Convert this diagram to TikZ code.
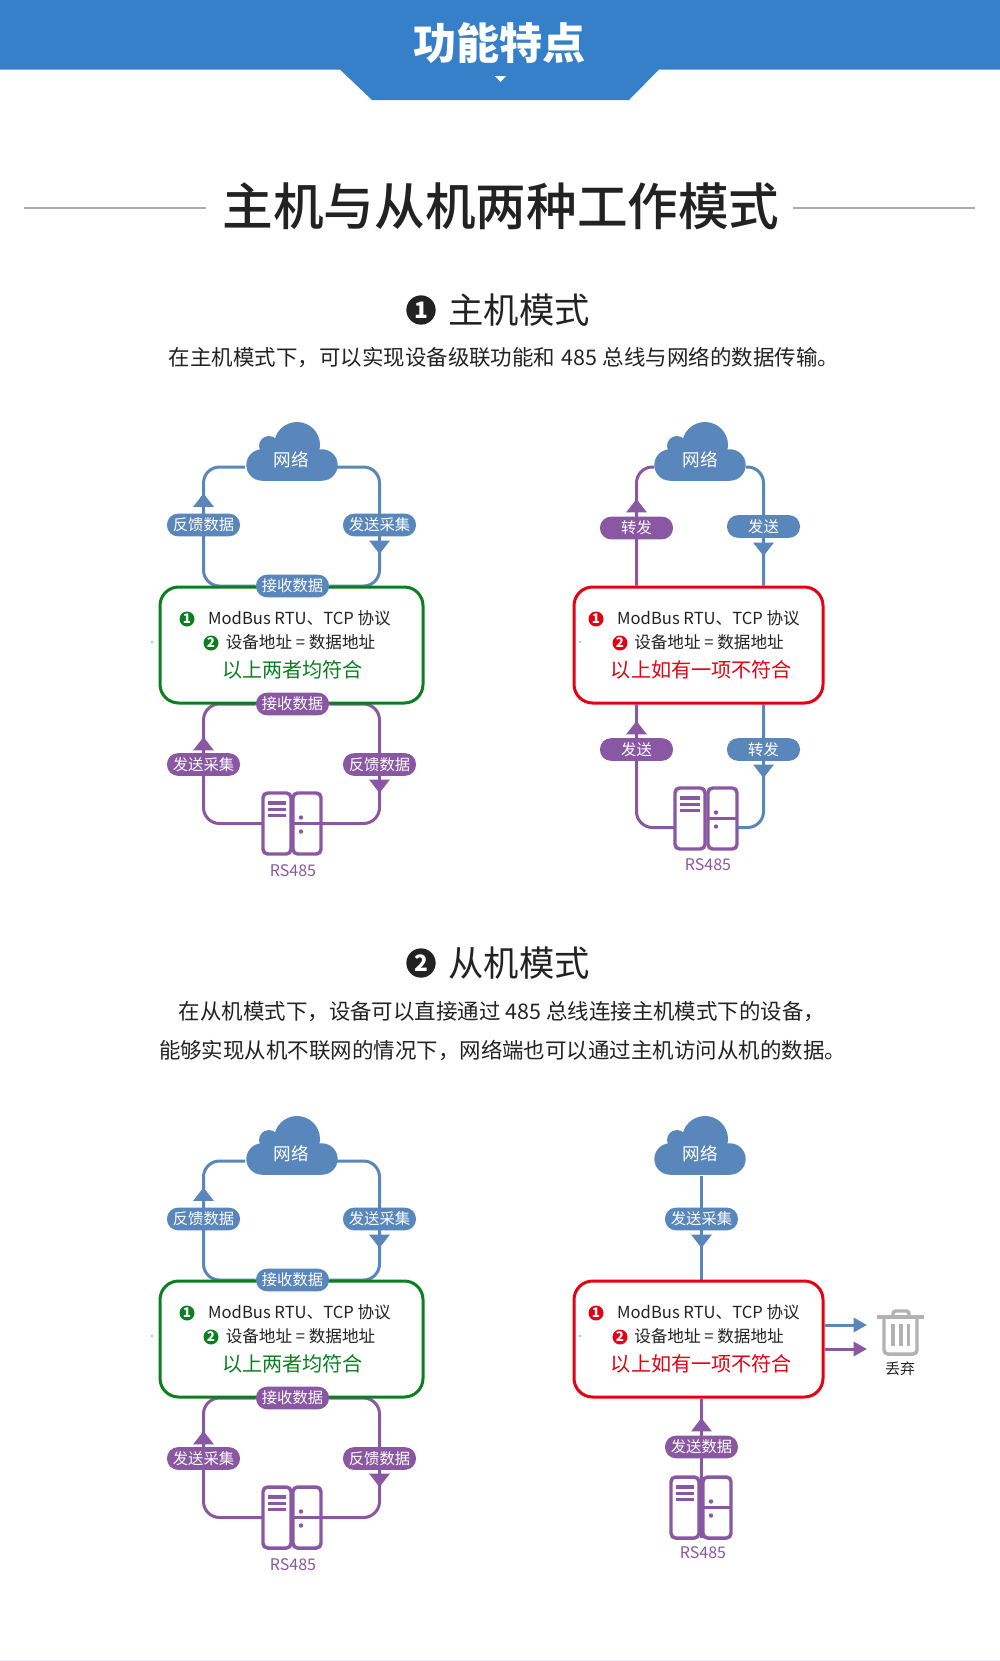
\documentclass[tikz,border=0pt]{standalone}
\usepackage{fontspec}
\setmainfont{Noto Sans CJK SC}
\newfontfamily\medf{Noto Sans CJK SC Medium}
\usetikzlibrary{arrows.meta,backgrounds}
\definecolor{hdr}{HTML}{3580C9}
\definecolor{bl}{HTML}{5A87BB}
\definecolor{pu}{HTML}{8A58A3}
\definecolor{rd}{HTML}{E60012}
\definecolor{gr}{HTML}{0A7F1F}
\definecolor{ink}{HTML}{222222}
\definecolor{rule}{HTML}{ABABAB}
\definecolor{tr}{HTML}{B2B2B2}
\definecolor{edge}{HTML}{E4ECF4}
\newcommand\fs[1]{\fontsize{#1}{#1}\selectfont}
\tikzset{
  wire/.style={line width=2.25pt,rounded corners=12pt},
  tipline/.style={-{Triangle[length=10pt,width=15pt]}},
  smalltip/.style={-{Triangle[length=10pt,width=10.5pt]}},
  pill/.style={fill=#1,text=white,rectangle,rounded corners=8.25pt,minimum width=54.75pt,minimum height=17pt,inner sep=0pt,font=\fs{11.5}},
  infobox/.style={draw=#1,fill=white,line width=2.25pt,rectangle,rounded corners=14pt,minimum height=87pt,inner sep=0pt},
  num/.style={circle,fill=#1,text=white,minimum size=11.25pt,inner sep=0pt,font=\bfseries\fs{10}},
  bignum/.style={circle,fill=ink,text=white,minimum size=22pt,inner sep=0pt,font=\bfseries\fs{17}},
  txt/.style={inner sep=0pt,text=ink},
  srvpart/.style={draw=pu,line width=2.6pt,rounded corners=3.5pt,fill=white},
}
\newcommand\mycloud[4]{% name, x, y, x offset of the text
  \fill[bl] (#2-30,#3+6) circle[radius=15.7];
  \fill[bl] (#2-23,#3-13) circle[radius=10];
  \fill[bl] (#2+5,#3-14) circle[radius=23];
  \fill[bl] (#2+30,#3+6) circle[radius=15.7];
  \fill[bl] (#2-30,#3-5) rectangle (#2+30,#3+21.7);
  \node[text=white,inner sep=0pt,minimum width=68.25pt,minimum height=33pt,font=\fs{13.2}] (#1) at (#2+#4,#3+1) {网络};
}
\newcommand\myserver[6]{% name, x1,x2 (left box), x3,x4 (right box), top
  \node[inner sep=0pt,minimum height=45.75pt,minimum width={(#5-#2)*0.75pt}] (#1) at ({(#2+#5)/2},#6+30.5) {};
  \draw[srvpart] (#2,#6) rectangle (#3,#6+61);
  \draw[srvpart] (#4,#6) rectangle (#5,#6+61);
  \fill[pu] (#2+5,#6+8) rectangle (#3-5,#6+11.5);
  \fill[pu] (#2+5,#6+14.5) rectangle (#3-5,#6+18);
  \fill[pu] (#2+5,#6+20.5) rectangle (#3-5,#6+24);
  \draw[pu,line width=2.25pt] (#4,#6+30.5) -- (#5,#6+30.5);
  \fill[pu] (#4+8,#6+24.5) circle[radius=2.2];
  \fill[pu] (#4+8,#6+38.5) circle[radius=2.2];
}
\newcommand\boxtext[7]{% suffix, x of num1, x of modbus centre, x of num2, x of addr centre, y-offset, colour
  \node[num=#7] (na#1) at (#2,619+#6) {1};
  \node[txt,font=\fs{12.45}] (ta#1) at (#3,618+#6) {ModBus RTU、TCP 协议};
  \node[num=#7] (nb#1) at (#4,643+#6) {2};
  \node[txt,font=\fs{12.45}] (tb#1) at (#5,642+#6) {设备地址 = 数据地址};
}
\begin{document}
\begin{tikzpicture}[x=0.75pt,y=-0.75pt]
\useasboundingbox (0,0) rectangle (1000,1661);
\begin{scope}[on background layer]
  \fill[white] (0,0) rectangle (1000,1661);
\end{scope}
\fill[edge] (0,1660) rectangle (1000,1661);
% header
\fill[hdr] (0,0) -- (1000,0) -- (1000,69.5) -- (659,69.5) -- (629,100) -- (372,100) -- (340,69.5) -- (0,69.5) -- cycle;
\fill[white] (495,76) -- (506,76) -- (500.5,82) -- cycle;
\node[text=white,inner sep=0pt,font=\bfseries\fs{32.3}] (hd) at (499.5,43) {功能特点};
% main title
\node[txt,font=\medf\fs{38}] (title) at (501,206) {主机与从机两种工作模式};
\coordinate (rl1) at (24,208); \coordinate (rr2) at (975,208);
\coordinate (rl2) at (206,208); \coordinate (rr1) at (793,208);
\draw[rule,line width=1.5pt] (rl1) -- (rl2);
\draw[rule,line width=1.5pt] (rr1) -- (rr2);
% section 1 heading
\node[bignum] (n1) at (421,310) {1};
\node[txt,font=\fs{26.5}] (s1) at (519,310) {主机模式};
\node[txt,font=\fs{16.1}] (d1) at (504,357) {在主机模式下，可以实现设备级联功能和\hspace{0.8pt} 485 \hspace{0.8pt}总线与网络的数据传输。};
% section 2 heading
\node[bignum] (n2) at (421,963) {2};
\node[txt,font=\fs{26.5}] (s2) at (519,963) {从机模式};
\node[txt,font=\fs{16.1}] (d2) at (502,1012) {在从机模式下，设备可以直接通过 485 总线连接主机模式下的设备，};
\node[txt,font=\fs{16.1}] (d3) at (502.5,1050) {能够实现从机不联网的情况下，网络端也可以通过主机访问从机的数据。};

% ---------- diagrams 1 and 3 (same figure, two heights)
\foreach \k/\o in {a/0,c/694}{
  \mycloud{cl\k}{292}{459+\o}{-1}
  \node[infobox=gr,minimum width=197.25pt] (bx\k) at (291.5,645+\o) {};
  \node[pill=bl] (up\k) at (203.5,525+\o) {反馈数据};
  \node[pill=bl] (dn\k) at (379.5,525+\o) {发送采集};
  \node[pill=bl] (rx\k) at (292.5,586+\o) {接收数据};
  \node[pill=pu] (ry\k) at (292.5,704+\o) {接收数据};
  \node[pill=pu] (vp\k) at (203.5,764.5+\o) {发送采集};
  \node[pill=pu] (wp\k) at (379.5,764.5+\o) {反馈数据};
  \boxtext{\k}{187}{299.5}{211}{300.5}{\o}{gr}
  \node[text=gr,inner sep=0pt,font=\fs{15.1}] (tc\k) at (292.5,670+\o) {以上两者均符合};
  \fill[cyan!50] (151,641+\o) rectangle (153,643+\o);
  \myserver{sv\k}{263}{291}{293}{321}{793+\o}
  \node[text=pu,inner sep=0pt,font=\fs{12}] (rs\k) at (293,871+\o) {RS485};
  \begin{scope}[on background layer]
    \draw[wire,draw=bl] ([yshift=-5.25pt]cl\k.east) -| (dn\k.center) |- (rx\k.east);
    \draw[wire,draw=bl] ([yshift=-5.25pt]cl\k.west) -| (up\k.center) |- (rx\k.west);
    \draw[wire,draw=bl,tipline] (up\k.center) -- ++(0,-31.5);
    \draw[wire,draw=bl,tipline] (dn\k.center) -- ++(0,29);
    \draw[wire,draw=pu] (ry\k.west) -| (vp\k.center) |- (sv\k.west);
    \draw[wire,draw=pu] (ry\k.east) -| (wp\k.center) |- (sv\k.east);
    \draw[wire,draw=pu,tipline] (vp\k.center) -- ++(0,-27.5);
    \draw[wire,draw=pu,tipline] (wp\k.center) -- ++(0,28.5);
  \end{scope}
}

% ---------- diagram 2
\mycloud{clb}{700}{459}{0}
\node[infobox=rd,minimum width=186.75pt] (bxb) at (698.5,645) {};
\node[pill=pu] (upb) at (636.5,528) {转发};
\node[pill=bl] (dnb) at (763.5,526.5) {发送};
\node[pill=pu] (vpb) at (636.5,749.5) {发送};
\node[pill=bl] (wpb) at (763.5,749.5) {转发};
\boxtext{b}{596}{708.5}{620}{709}{0}{rd}
\node[text=rd,inner sep=0pt,font=\fs{15.1}] (tcb) at (701.5,670) {以上如有一项不符合};
\fill[cyan!50] (579,641) rectangle (581,643);
\myserver{svb}{675}{705}{708}{737}{788}
\node[text=pu,inner sep=0pt,font=\fs{12}] (rsb) at (708,865) {RS485};
\begin{scope}[on background layer]
  \draw[wire,draw=pu] ([yshift=-5.25pt]clb.west) -| (upb.center) -- (upb.center |- bxb.north);
  \draw[wire,draw=bl] ([yshift=-5.25pt]clb.east) -| (dnb.center) -- (dnb.center |- bxb.north);
  \draw[wire,draw=pu,tipline] (upb.center) -- ++(0,-29);
  \draw[wire,draw=bl,tipline] (dnb.center) -- ++(0,29.5);
  \draw[wire,draw=pu] (vpb.center |- bxb.south) -- (vpb.center) |- ([yshift=-6.75pt]svb.west);
  \draw[wire,draw=bl] (wpb.center |- bxb.south) -- (wpb.center) |- ([yshift=-6.75pt]svb.east);
  \draw[wire,draw=pu,tipline] (vpb.center) -- ++(0,-28.5);
  \draw[wire,draw=bl,tipline] (wpb.center) -- ++(0,28.5);
\end{scope}

% ---------- diagram 4
\mycloud{cld}{700}{1153}{0}
\node[infobox=rd,minimum width=186.75pt] (bxd) at (698.5,1339) {};
\node[pill=bl] (dnd) at (701.5,1219) {发送采集};
\node[pill=pu] (vpd) at (701.5,1447) {发送数据};
\boxtext{d}{596}{708.5}{620}{709}{694}{rd}
\node[text=rd,inner sep=0pt,font=\fs{15.1}] (tcd) at (701.5,1364) {以上如有一项不符合};
\fill[cyan!50] (579,1335) rectangle (581,1337);
\myserver{svd}{671}{699}{703}{731}{1477}
\node[text=pu,inner sep=0pt,font=\fs{12}] (rsd) at (703,1553) {RS485};
% dustbin
\node[inner sep=0pt,minimum width=35.25pt,minimum height=34.5pt] (bin) at (900.5,1332.5) {};
\draw[tr,line width=2.5pt] (877,1317) -- (924,1317);
\draw[tr,line width=2.5pt,rounded corners=2pt] (893,1317) -- (893,1311) -- (909,1311) -- (909,1317);
\draw[tr,line width=2.6pt,rounded corners=3pt] (884,1317) -- (884,1354) -- (917,1354) -- (917,1317);
\draw[tr,line width=2.3pt] (893,1324) -- (893,1346);
\draw[tr,line width=2.3pt] (901,1324) -- (901,1346);
\draw[tr,line width=2.3pt] (908.5,1324) -- (908.5,1346);
\node[txt,font=\fs{11.25}] (drop) at (900,1369) {丢弃};
\coordinate (ba) at (867,1325);
\coordinate (bb) at (867,1349);
\begin{scope}[on background layer]
  \draw[wire,draw=bl] (cld.south -| dnd.center) -- (dnd.center |- bxd.north);
  \draw[wire,draw=bl,tipline] (dnd.center) -- ++(0,29);
  \draw[wire,draw=pu,tipline] (vpd.center) -- ++(0,-29);
  \draw[wire,draw=pu] (vpd.center |- bxd.south) -- (vpd.center |- svd.south);
  \draw[wire,draw=bl,smalltip] (bxd.east |- ba) -- (ba);
  \draw[wire,draw=pu,smalltip] (bxd.east |- bb) -- (bb);
\end{scope}
\end{tikzpicture}
\end{document}
